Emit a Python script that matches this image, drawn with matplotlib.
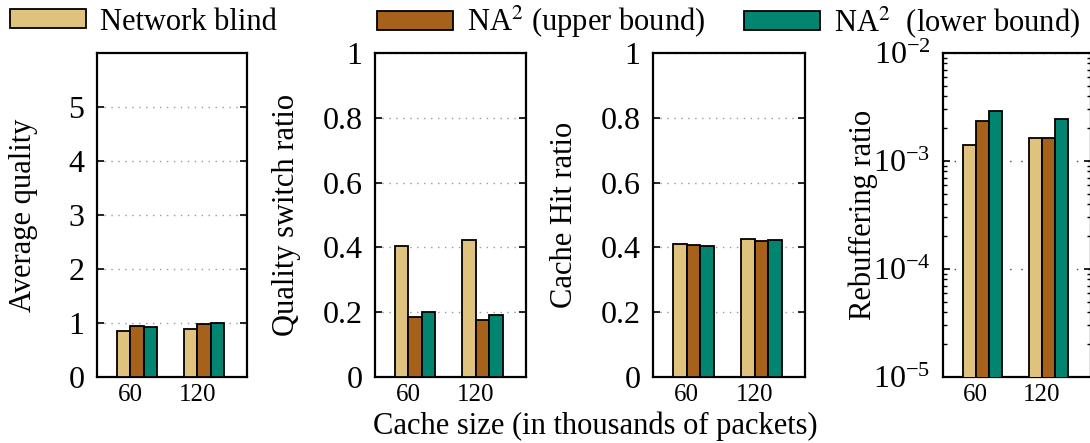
import matplotlib
matplotlib.use("Agg")
import matplotlib.pyplot as plt
from matplotlib.patches import Patch
from matplotlib.ticker import LogLocator, NullFormatter

plt.rcParams["font.family"] = ["Liberation Serif", "DejaVu Serif"]
plt.rcParams["mathtext.fontset"] = "stix"

# cache sizes (thousands of packets)
cache_sizes = ["60", "120"]
series = ["Network blind", "NA$^2$ (upper bound)", "NA$^2$  (lower bound)"]
colors = ["#dfc27d", "#a6611a", "#018571"]

avg_quality = [[0.85, 0.89], [0.95, 0.99], [0.92, 1.0]]
switch_ratio = [[0.404, 0.422], [0.184, 0.176], [0.202, 0.192]]
hit_ratio = [[0.411, 0.427], [0.407, 0.421], [0.403, 0.423]]
rebuf_ratio = [[1.40e-3, 1.62e-3], [2.34e-3, 1.62e-3], [2.90e-3, 2.43e-3]]

fig = plt.figure(figsize=(10.9, 4.43), dpi=100)

W, H = 1090.0, 443.0
top, bottom = 53, 377
boxes = [(97, 150), (375, 151), (653, 152), (943, 148)]
axes = [fig.add_axes([l / W, 1 - bottom / H, w / W, (bottom - top) / H]) for l, w in boxes]

group_x = [0, 5]
offsets = [-0.5, 0.5, 1.5]


def draw(ax, data, ylabel, label_x):
    for s in range(3):
        xs = [g + offsets[s] for g in group_x]
        ax.bar(xs, data[s], width=1.0, color=colors[s], edgecolor="black",
               linewidth=1.3, zorder=3)
    ax.set_xlim(-2.48, 8.72)
    ax.set_xticks(group_x)
    ax.set_xticklabels(cache_sizes, fontsize=18)
    ax.tick_params(axis="x", length=0, pad=5)
    ax.tick_params(axis="y", which="major", direction="in", left=True, right=True,
                   length=5, width=1.2, labelsize=23, pad=9)
    ax.tick_params(axis="y", which="minor", direction="in", left=True, right=True,
                   length=3, width=1.0)
    for sp in ax.spines.values():
        sp.set_linewidth(1.6)
    ax.set_axisbelow(True)
    ax.set_ylabel(ylabel, fontsize=22, va="center")
    ax.yaxis.set_label_coords(label_x, 0.5)


ax1, ax2, ax3, ax4 = axes

draw(ax1, avg_quality, "Average quality", -0.49)
ax1.set_ylim(0, 6)
ax1.set_yticks([0, 1, 2, 3, 4, 5])
ax1.set_yticklabels(["0", "1", "2", "3", "4", "5"])

ratio_ticks = [0, 0.2, 0.4, 0.6, 0.8, 1.0]
ratio_labels = ["0", "0.2", "0.4", "0.6", "0.8", "1"]
for ax, data, lab in [(ax2, switch_ratio, "Quality switch ratio"),
                      (ax3, hit_ratio, "Cache Hit ratio")]:
    draw(ax, data, lab, -0.585)
    ax.set_ylim(0, 1)
    ax.set_yticks(ratio_ticks)
    ax.set_yticklabels(ratio_labels)

for ax in (ax1, ax2, ax3):
    ax.grid(axis="y", color="#999999", linestyle=(0, (1, 4)), linewidth=1.0)
    ax.yaxis.get_gridlines()[0].set_visible(False)

draw(ax4, rebuf_ratio, "Rebuffering ratio", -0.54)
ax4.set_yscale("log")
ax4.set_ylim(1e-5, 1e-2)
ax4.set_yticks([1e-5, 1e-4, 1e-3, 1e-2])
ax4.set_yticklabels([r"$\mathregular{10^{-5}}$", r"$\mathregular{10^{-4}}$",
                     r"$\mathregular{10^{-3}}$", r"$\mathregular{10^{-2}}$"])
ax4.yaxis.set_minor_locator(LogLocator(base=10, subs=range(2, 10)))
ax4.yaxis.set_minor_formatter(NullFormatter())
ax4.grid(axis="y", which="major", color="#444444", linestyle=(0, (1, 7)), linewidth=1.0)

fig.text(595 / W, 1 - 426 / H, "Cache size (in thousands of packets)",
         fontsize=22, ha="center", va="center")

# legend row along the top
legend_x = [10, 377, 744]
for s in range(3):
    handle = Patch(facecolor=colors[s], edgecolor="black", linewidth=1.3)
    fig.legend([handle], [series[s]], loc="center left",
               bbox_to_anchor=(legend_x[s] / W, 1 - 22 / H), frameon=False,
               fontsize=22, handlelength=2.5, handleheight=0.6,
               handletextpad=0.45, borderpad=0, borderaxespad=0)

fig.savefig("out.png", dpi=100)
